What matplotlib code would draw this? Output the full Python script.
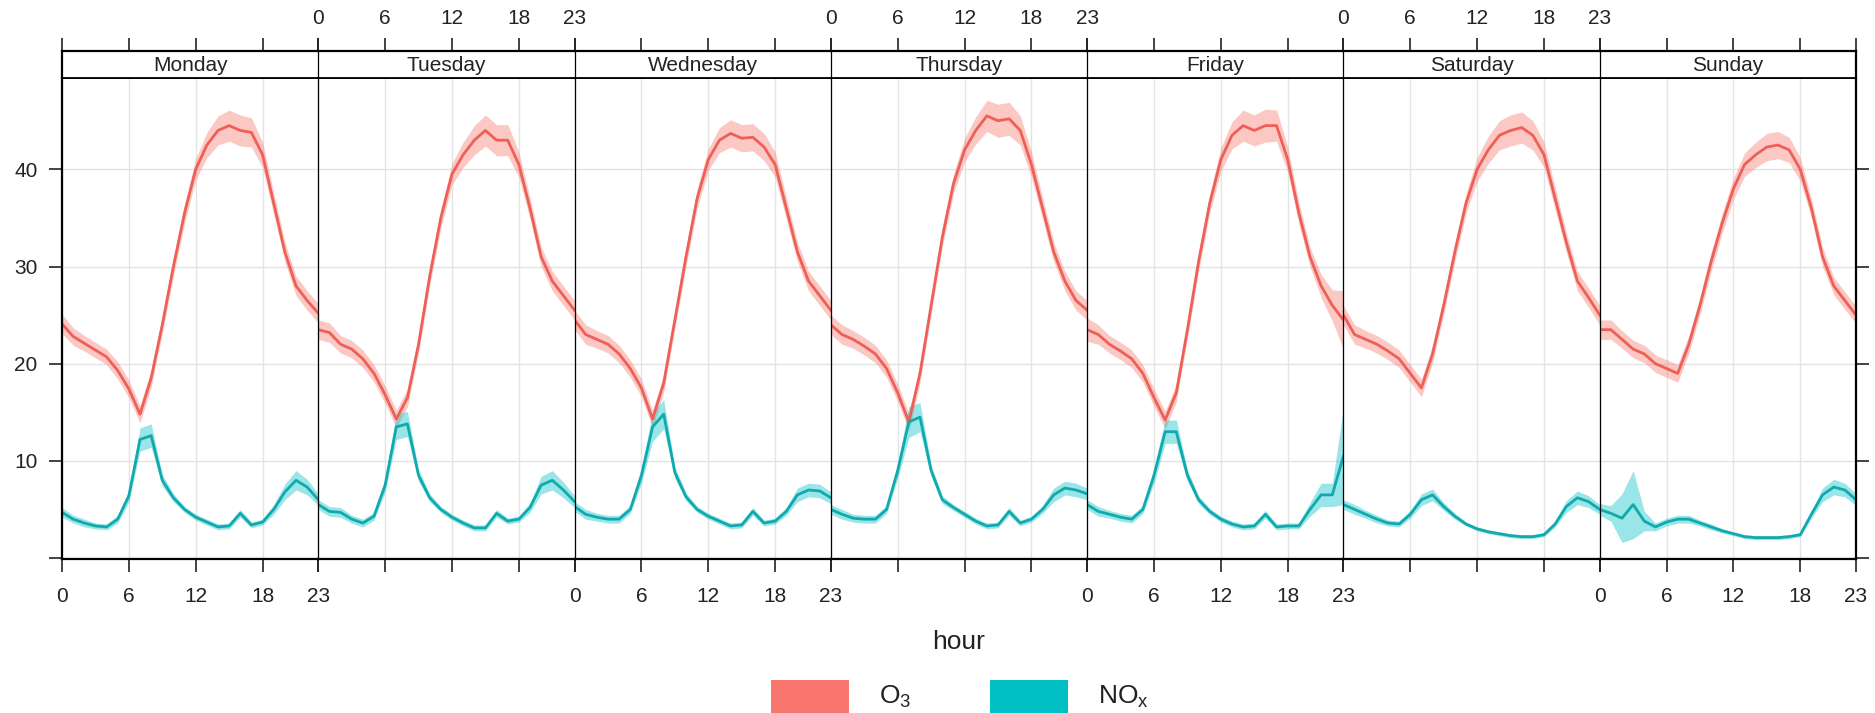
import matplotlib.pyplot as plt
from matplotlib.patches import Rectangle
import numpy as np

plt.rcParams['font.family'] = ['Liberation Sans', 'DejaVu Sans']
plt.rcParams['mathtext.fontset'] = 'custom'
plt.rcParams['mathtext.rm'] = 'Liberation Sans'
plt.rcParams['mathtext.it'] = 'Liberation Sans:italic'

days = ['Monday', 'Tuesday', 'Wednesday', 'Thursday', 'Friday', 'Saturday', 'Sunday']
hours = list(range(24))
hour_ticks = [0, 6, 12, 18, 23]
y_ticks = [0, 10, 20, 30, 40]
y_labels = ['', '10', '20', '30', '40']

# hourly means, one list per weekday
o3 = [
    [24.1, 22.8, 22.1, 21.4, 20.7, 19.3, 17.4, 14.8, 18.5, 24.0, 30.0, 35.5, 40.0, 42.5, 44.0, 44.5, 44.0, 43.8, 41.5, 36.5, 31.5, 28.0, 26.5, 25.2],
    [23.5, 23.2, 22.0, 21.5, 20.5, 19.0, 16.8, 14.3, 16.5, 22.0, 29.0, 35.0, 39.5, 41.5, 43.0, 44.0, 43.0, 43.0, 40.5, 36.0, 31.0, 28.5, 27.0, 25.5],
    [24.5, 23.0, 22.5, 22.0, 21.0, 19.5, 17.5, 14.3, 18.0, 24.5, 31.0, 37.0, 41.0, 43.0, 43.7, 43.2, 43.3, 42.3, 40.5, 36.0, 31.5, 28.5, 27.0, 25.5],
    [24.0, 23.0, 22.5, 21.8, 21.0, 19.5, 17.0, 14.0, 19.0, 26.0, 33.0, 38.5, 42.0, 44.0, 45.5, 45.0, 45.2, 44.0, 40.5, 36.0, 31.5, 28.5, 26.5, 25.5],
    [23.5, 23.0, 22.0, 21.3, 20.5, 19.0, 16.5, 14.2, 17.0, 23.5, 30.5, 36.5, 41.0, 43.5, 44.5, 44.0, 44.5, 44.5, 41.0, 35.5, 31.0, 28.0, 26.0, 24.5],
    [25.0, 23.0, 22.5, 22.0, 21.3, 20.5, 19.0, 17.5, 21.0, 26.0, 31.5, 36.5, 40.0, 42.0, 43.5, 44.0, 44.3, 43.5, 41.5, 37.0, 32.5, 28.5, 26.8, 25.0],
    [23.5, 23.5, 22.5, 21.5, 21.0, 20.0, 19.5, 19.0, 22.0, 26.0, 30.5, 34.5, 38.0, 40.5, 41.5, 42.3, 42.5, 42.0, 40.0, 36.0, 31.0, 28.0, 26.5, 25.0],
]
o3_ci = [
    [1.0, 0.9, 0.8, 0.8, 0.8, 0.9, 0.9, 0.9, 0.9, 0.9, 1.0, 1.0, 1.1, 1.3, 1.5, 1.6, 1.6, 1.5, 1.3, 1.1, 1.0, 1.0, 1.0, 1.0],
    [1.0, 1.0, 0.9, 0.9, 0.9, 0.9, 0.9, 0.9, 0.9, 0.9, 1.0, 1.0, 1.1, 1.3, 1.5, 1.6, 1.6, 1.6, 1.3, 1.1, 1.0, 1.0, 1.0, 1.0],
    [1.0, 1.0, 0.9, 0.9, 0.9, 0.9, 0.9, 0.9, 0.9, 0.9, 1.0, 1.0, 1.1, 1.3, 1.4, 1.4, 1.4, 1.4, 1.3, 1.1, 1.0, 1.0, 1.0, 1.0],
    [1.0, 1.0, 0.9, 0.9, 0.9, 0.9, 0.9, 0.9, 0.9, 0.9, 1.0, 1.0, 1.2, 1.4, 1.6, 1.7, 1.7, 1.5, 1.3, 1.1, 1.0, 1.0, 1.0, 1.0],
    [1.2, 1.0, 0.9, 0.9, 0.9, 0.9, 0.9, 0.9, 0.9, 0.9, 1.0, 1.0, 1.2, 1.4, 1.6, 1.6, 1.7, 1.6, 1.3, 1.1, 1.0, 1.2, 1.6, 3.0],
    [1.0, 1.0, 0.9, 0.9, 0.9, 0.9, 0.9, 0.9, 0.9, 0.9, 1.0, 1.0, 1.2, 1.4, 1.5, 1.6, 1.6, 1.5, 1.3, 1.1, 1.0, 1.0, 1.0, 1.0],
    [1.0, 1.0, 0.9, 0.9, 0.9, 0.9, 0.9, 0.9, 0.9, 0.9, 1.0, 1.0, 1.1, 1.2, 1.3, 1.4, 1.4, 1.3, 1.2, 1.0, 1.0, 0.9, 0.9, 0.9],
]
nox = [
    [4.7, 4.0, 3.6, 3.3, 3.2, 4.0, 6.4, 12.2, 12.6, 8.0, 6.2, 5.0, 4.2, 3.7, 3.2, 3.3, 4.6, 3.4, 3.7, 5.0, 6.8, 8.0, 7.3, 6.0],
    [5.5, 4.8, 4.7, 4.0, 3.6, 4.3, 7.5, 13.5, 13.8, 8.5, 6.2, 5.0, 4.2, 3.6, 3.1, 3.1, 4.6, 3.8, 4.0, 5.2, 7.5, 8.0, 7.0, 5.8],
    [5.3, 4.5, 4.2, 4.0, 4.0, 5.0, 8.5, 13.5, 14.8, 8.8, 6.3, 5.0, 4.3, 3.8, 3.3, 3.4, 4.8, 3.6, 3.8, 4.8, 6.5, 7.0, 6.9, 6.2],
    [5.0, 4.5, 4.1, 4.0, 4.0, 5.0, 9.0, 14.0, 14.5, 9.0, 6.0, 5.2, 4.5, 3.8, 3.3, 3.4, 4.8, 3.6, 4.0, 5.0, 6.5, 7.2, 7.0, 6.6],
    [5.5, 4.8, 4.5, 4.2, 4.0, 5.0, 8.5, 13.0, 13.0, 8.5, 6.0, 4.8, 4.0, 3.5, 3.2, 3.3, 4.5, 3.2, 3.3, 3.3, 5.0, 6.5, 6.5, 10.5],
    [5.5, 5.0, 4.5, 4.0, 3.6, 3.5, 4.5, 6.0, 6.5, 5.3, 4.3, 3.5, 3.0, 2.7, 2.5, 2.3, 2.2, 2.2, 2.4, 3.5, 5.3, 6.2, 5.8, 5.0],
    [5.0, 4.6, 4.1, 5.5, 3.8, 3.2, 3.7, 4.0, 4.0, 3.6, 3.2, 2.8, 2.5, 2.2, 2.1, 2.1, 2.1, 2.2, 2.4, 4.5, 6.5, 7.3, 7.0, 6.0],
]
nox_ci = [
    [0.5, 0.4, 0.4, 0.3, 0.3, 0.4, 0.6, 1.2, 1.2, 0.6, 0.4, 0.3, 0.3, 0.3, 0.3, 0.3, 0.4, 0.3, 0.3, 0.5, 0.8, 1.0, 0.8, 0.6],
    [0.5, 0.5, 0.5, 0.4, 0.4, 0.4, 0.7, 1.3, 1.3, 0.6, 0.4, 0.3, 0.3, 0.3, 0.3, 0.3, 0.4, 0.3, 0.3, 0.5, 0.9, 1.0, 0.8, 0.6],
    [0.5, 0.5, 0.4, 0.4, 0.4, 0.4, 0.8, 1.5, 1.5, 0.6, 0.4, 0.3, 0.3, 0.3, 0.3, 0.3, 0.4, 0.3, 0.3, 0.4, 0.7, 0.7, 0.7, 0.6],
    [0.5, 0.5, 0.4, 0.4, 0.4, 0.4, 0.8, 1.6, 1.5, 0.6, 0.4, 0.3, 0.3, 0.3, 0.3, 0.3, 0.4, 0.3, 0.3, 0.4, 0.7, 0.7, 0.7, 0.6],
    [0.5, 0.5, 0.4, 0.4, 0.4, 0.4, 0.8, 1.2, 1.2, 0.6, 0.4, 0.3, 0.3, 0.3, 0.3, 0.3, 0.4, 0.3, 0.3, 0.3, 0.7, 1.2, 1.2, 5.0],
    [0.5, 0.5, 0.4, 0.4, 0.3, 0.3, 0.4, 0.6, 0.6, 0.4, 0.3, 0.2, 0.2, 0.2, 0.2, 0.2, 0.2, 0.2, 0.2, 0.3, 0.6, 0.7, 0.6, 0.5],
    [0.6, 0.8, 2.5, 3.5, 1.0, 0.4, 0.4, 0.4, 0.4, 0.3, 0.3, 0.2, 0.2, 0.2, 0.2, 0.2, 0.2, 0.2, 0.2, 0.4, 0.7, 0.8, 0.7, 0.6],
]

o3_col, o3_line = '#F8766D', '#EE5F57'
nox_col, nox_line = '#00BFC4', '#10AAAE'

W, H = 1875, 713
fig = plt.figure(figsize=(W / 100, H / 100), dpi=100)

left, right = 62, 1856
top, bottom = 78, 559
strip_top = 51
pw = (right - left) / 7

for i, day in enumerate(days):
    x0 = (left + i * pw) / W
    ax = fig.add_axes([x0, 1 - bottom / H, pw / W, (bottom - top) / H])
    lo = np.array(o3[i]) - np.array(o3_ci[i])
    hi = np.array(o3[i]) + np.array(o3_ci[i])
    ax.fill_between(hours, lo, hi, color=o3_col, alpha=0.4, lw=0)
    ax.plot(hours, o3[i], color=o3_line, lw=2.0)
    lo = np.array(nox[i]) - np.array(nox_ci[i])
    hi = np.array(nox[i]) + np.array(nox_ci[i])
    ax.fill_between(hours, lo, hi, color=nox_col, alpha=0.4, lw=0)
    ax.plot(hours, nox[i], color=nox_line, lw=2.0)

    ax.set_xlim(0, 23)
    ax.set_ylim(-0.1, 49.4)
    ax.set_xticks(hour_ticks)
    ax.set_yticks(y_ticks)
    ax.set_yticklabels(y_labels)
    ax.grid(True, color='#e3e3e3', lw=1.0)
    ax.set_axisbelow(True)
    ax.tick_params(axis='x', direction='out', length=9.5, width=1.2, pad=11,
                   labelsize=15, labelbottom=(i % 2 == 0), colors='#222222')
    ax.tick_params(axis='y', direction='out', length=9.5, width=1.2, pad=8,
                   labelsize=15, left=(i == 0), labelleft=(i == 0),
                   right=(i == 6), labelright=False, colors='#222222')
    for s in ['left', 'right']:
        ax.spines[s].set_linewidth(1.6 if (s == 'left' and i == 0) or (s == 'right' and i == 6) else 0.9)
    if i < 6:
        ax.spines['right'].set_visible(False)
    ax.spines['bottom'].set_linewidth(1.6)
    ax.spines['top'].set_linewidth(1.3)

    st = fig.add_axes([x0, 1 - top / H, pw / W, (top - strip_top) / H])
    st.set_xlim(0, 23)
    st.set_ylim(0, 1)
    st.set_xticks(hour_ticks)
    st.set_yticks([])
    st.tick_params(axis='x', direction='out', length=9.5, width=1.2, pad=7,
                   labelsize=15, bottom=False, labelbottom=False, top=True,
                   labeltop=(i % 2 == 1), colors='#222222')
    st.text(11.5, 0.45, day, ha='center', va='center', fontsize=15, color='#222222')
    for s in ['left', 'right']:
        st.spines[s].set_linewidth(1.6 if (s == 'left' and i == 0) or (s == 'right' and i == 6) else 0.9)
    if i < 6:
        st.spines['right'].set_visible(False)
    st.spines['top'].set_linewidth(1.6)
    st.spines['bottom'].set_linewidth(1.3)

fig.text(959 / W, 1 - 642 / H, 'hour', ha='center', va='center', fontsize=19, color='#222222')

fig.add_artist(Rectangle((771 / W, 0), 78 / W, 33 / H, transform=fig.transFigure, color=o3_col, lw=0))
fig.add_artist(Rectangle((990 / W, 0), 78 / W, 33 / H, transform=fig.transFigure, color=nox_col, lw=0))
fig.text(879 / W, 1 - 697 / H, r'O$_\mathrm{3}$', ha='left', va='center', fontsize=19, color='#222222')
fig.text(1098 / W, 1 - 697 / H, r'NO$_\mathrm{x}$', ha='left', va='center', fontsize=19, color='#222222')

plt.savefig('out.png', dpi=100)
